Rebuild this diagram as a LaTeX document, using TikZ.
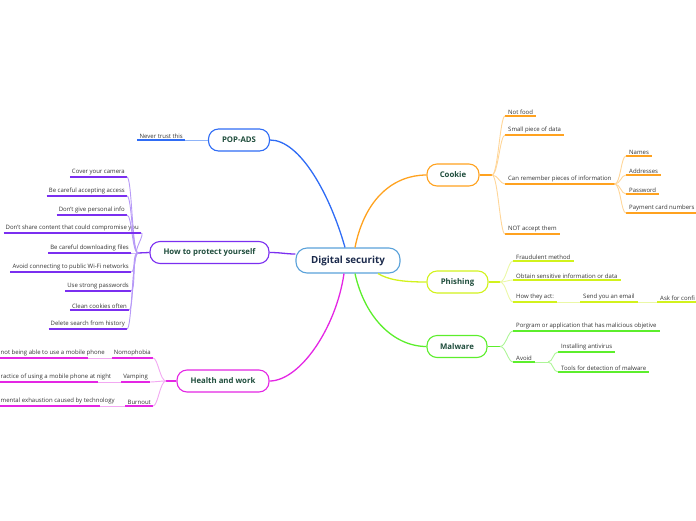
\documentclass[tikz,border=0pt]{standalone}
\usepackage{fontspec}
\setmainfont{Open Sans}
\definecolor{popblue}{HTML}{2F6CF5}
\definecolor{popblueL}{HTML}{8FB4F8}
\definecolor{protpur}{HTML}{7B2FF0}
\definecolor{protpurL}{HTML}{B79AF7}
\definecolor{healthmag}{HTML}{E426E4}
\definecolor{healthmagL}{HTML}{F2A8F2}
\definecolor{cookieor}{HTML}{FFA21F}
\definecolor{cookieorL}{HTML}{FFD699}
\definecolor{phishyel}{HTML}{D2F21C}
\definecolor{phishyelL}{HTML}{EBF8A6}
\definecolor{malgreen}{HTML}{5CEE2C}
\definecolor{malgreenL}{HTML}{ADF597}
\definecolor{centerblue}{HTML}{5AA2DA}
\definecolor{topictxt}{HTML}{1F4D3C}
\definecolor{centertxt}{HTML}{1B2A4C}
\definecolor{leaftxt}{HTML}{333333}
\tikzset{
  rootbox/.style={draw=centerblue,line width=1.1pt,rounded corners=11pt,fill=white,
    font=\fontsize{9.8}{11}\selectfont\bfseries,text=centertxt,
    minimum width=104pt,minimum height=25pt},
  topicbox/.style={draw=#1,line width=1.1pt,rounded corners=10pt,fill=white,
    font=\fontsize{7.8}{9}\selectfont\bfseries,text=topictxt,minimum height=22pt},
  leafL/.style={font=\fontsize{6}{7}\selectfont,text=leaftxt,inner xsep=2pt,inner ysep=1.5pt,anchor=south east},
  leafR/.style={font=\fontsize{6}{7}\selectfont,text=leaftxt,inner xsep=3pt,inner ysep=1.5pt,anchor=south west},
  uline/.style={line width=1.8pt,#1},
  mainline/.style={line width=1.3pt,#1},
  subline/.style={line width=0.9pt,#1}
}
\begin{document}
\begin{tikzpicture}[x=1pt,y=-1pt]
\useasboundingbox (0,0) rectangle (696,520);
% central topic and main topics
\node[rootbox] (ds) at (348,260.5) {Digital security};
\node[topicbox=popblue,minimum width=61pt] (pop) at (239,140) {POP-ADS};
\node[topicbox=protpur,minimum width=119pt] (prot) at (209.5,252.5) {How to protect yourself};
\node[topicbox=healthmag,minimum width=92pt] (health) at (223,381) {Health and work};
\node[topicbox=cookieor,minimum width=52pt] (cookie) at (453,175) {Cookie};
\node[topicbox=phishyel,minimum width=61pt] (phish) at (457.5,282) {Phishing};
\node[topicbox=malgreen,minimum width=60pt] (mal) at (457,346.5) {Malware};
% main connectors
\draw[mainline=popblue] (pop.east) .. controls +(30,0) and +(-15,-53) .. ([xshift=-3pt]ds.north);
\draw[mainline=cookieor] ([xshift=7pt]ds.north) .. controls +(10,-50) and +(-32,0) .. (cookie.west);
\draw[mainline=protpur] (prot.east) .. controls +(12,0) and +(-10,0) .. ([yshift=6.5pt]ds.west);
\draw[mainline=phishyel] ([xshift=30pt]ds.south) .. controls +(10,6) and +(-25,0) .. (phish.west);
\draw[mainline=malgreen] ([xshift=7pt]ds.south) .. controls +(10,45) and +(-32,0) .. (mal.west);
\draw[mainline=healthmag] ([xshift=-4pt]ds.south) .. controls +(-8,55) and +(30,0) .. (health.east);

% POP-ADS
\node[leafL] (never) at (185,140) {Never trust this};
\draw[uline=popblue] (never.south west) -- (never.south east);
\draw[subline=popblueL] (pop.west) -- (never.south east);

% How to protect yourself
\coordinate (jP) at (138,253);
\draw[line width=1.3pt,protpur] (prot.west) -- (jP);
\node[leafL] (cam) at (127,177) {Cover your camera};
\node[leafL] (acc) at (127,196) {Be careful accepting access};
\node[leafL] (info) at (127,215) {Don't give personal info};
\node[leafL] (share) at (141,233) {Don't share content that could compromise you};
\node[leafL] (down) at (131,253) {Be careful downloading files};
\node[leafL] (wifi) at (131,272) {Avoid connecting to public Wi-Fi networks};
\node[leafL] (pass) at (131,291) {Use strong passwords};
\node[leafL] (clean) at (129,310) {Clean cookies often};
\node[leafL] (hist) at (127,329) {Delete search from history};
\foreach \n in {cam,acc,info,share,down,wifi,pass,clean,hist}{
  \draw[uline=protpur] (\n.south west) -- (\n.south east);
  \draw[subline=protpurL] (jP) .. controls +(-6,0) and +(5,0) .. (\n.south east);
}

% Health and work
\coordinate (jH) at (166,381);
\draw[line width=1.3pt,healthmag] (health.west) -- (jH);
\node[leafL] (nomo) at (153,358) {Nomophobia};
\node[leafL] (vamp) at (150,382) {Vamping};
\node[leafL] (burn) at (153,406) {Burnout};
\foreach \n in {nomo,vamp,burn}{
  \draw[uline=healthmag] (\n.south west) -- (\n.south east);
  \draw[subline=healthmagL] (jH) .. controls +(-6,0) and +(5,0) .. (\n.south east);
}
\node[leafR,inner xsep=0.5pt] (fear) at (0,358) {not being able to use a mobile phone};
\node[leafR,inner xsep=0.5pt] (night) at (0,382) {ractice of using a mobile phone at night};
\node[leafR,inner xsep=0.5pt] (tired) at (0,406) {mental exhaustion caused by technology};
\coordinate (fearEnd) at (88,358);
\coordinate (nightEnd) at (98,382);
\coordinate (tiredEnd) at (100,406);
\draw[uline=healthmag] (fear.south west) -- (fearEnd);
\draw[uline=healthmag] (night.south west) -- (nightEnd);
\draw[uline=healthmag] (tired.south west) -- (tiredEnd);
\draw[subline=healthmagL] (nomo.south west) -- (fearEnd);
\draw[subline=healthmagL] (vamp.south west) -- (nightEnd);
\draw[subline=healthmagL] (burn.south west) -- (tiredEnd);

% Cookie
\coordinate (jC) at (492,175);
\draw[line width=1.3pt,cookieor] (cookie.east) -- (jC);
\node[leafR] (food) at (505,116) {Not food};
\node[leafR] (piece) at (505,135) {Small piece of data};
\node[leafR] (remem) at (505,184) {Can remember pieces of information};
\node[leafR] (notacc) at (505,234) {NOT accept them};
\foreach \n in {food,piece,remem,notacc}{
  \draw[uline=cookieor] (\n.south west) -- (\n.south east);
  \draw[subline=cookieorL] (jC) .. controls +(6,0) and +(-5,0) .. (\n.south west);
}
\node[leafR] (names) at (626,156) {Names};
\node[leafR] (addr) at (626,175) {Addresses};
\node[leafR] (pwd) at (626,194) {Password};
\node[leafR] (card) at (626,213) {Payment card numbers};
\foreach \n in {names,addr,pwd,card}{
  \draw[uline=cookieor] (\n.south west) -- (\n.south east);
  \draw[subline=cookieorL] (remem.south east) .. controls +(6,0) and +(-5,0) .. (\n.south west);
}

% Phishing
\coordinate (jPh) at (500,282);
\draw[line width=1.3pt,phishyel] (phish.east) -- (jPh);
\node[leafR] (fraud) at (513,261) {Fraudulent method};
\node[leafR] (obtain) at (513,280) {Obtain sensitive information or data};
\node[leafR] (how) at (513,302) {How they act:};
\foreach \n in {fraud,obtain,how}{
  \draw[uline=phishyel] (\n.south west) -- (\n.south east);
  \draw[subline=phishyelL] (jPh) .. controls +(6,0) and +(-5,0) .. (\n.south west);
}
\node[leafR] (email) at (580,302) {Send you an email};
\node[leafR] (ask) at (657,302) {Ask for confi};
\draw[uline=phishyel] (email.south west) -- (email.south east);
\draw[uline=phishyel] (ask.south west) -- (696,302);
\draw[subline=phishyelL] (how.south east) -- (email.south west);
\draw[subline=phishyelL] (email.south east) -- (ask.south west);

% Malware
\coordinate (jM) at (500,346.5);
\draw[line width=1.3pt,malgreen] (mal.east) -- (jM);
\node[leafR] (prog) at (513,331) {Porgram or application that has malicious objetive};
\node[leafR] (avoid) at (513,362) {Avoid};
\foreach \n in {prog,avoid}{
  \draw[uline=malgreen] (\n.south west) -- (\n.south east);
  \draw[subline=malgreenL] (jM) .. controls +(6,0) and +(-5,0) .. (\n.south west);
}
\coordinate (jA) at (548,362);
\draw[subline=malgreenL] (avoid.south east) -- (jA);
\node[leafR] (anti) at (558,352) {Installing antivirus};
\node[leafR] (tools) at (558,372) {Tools for detection of malware};
\foreach \n in {anti,tools}{
  \draw[uline=malgreen] (\n.south west) -- (\n.south east);
  \draw[subline=malgreenL] (jA) .. controls +(5,0) and +(-5,0) .. (\n.south west);
}
\end{tikzpicture}
\end{document}
